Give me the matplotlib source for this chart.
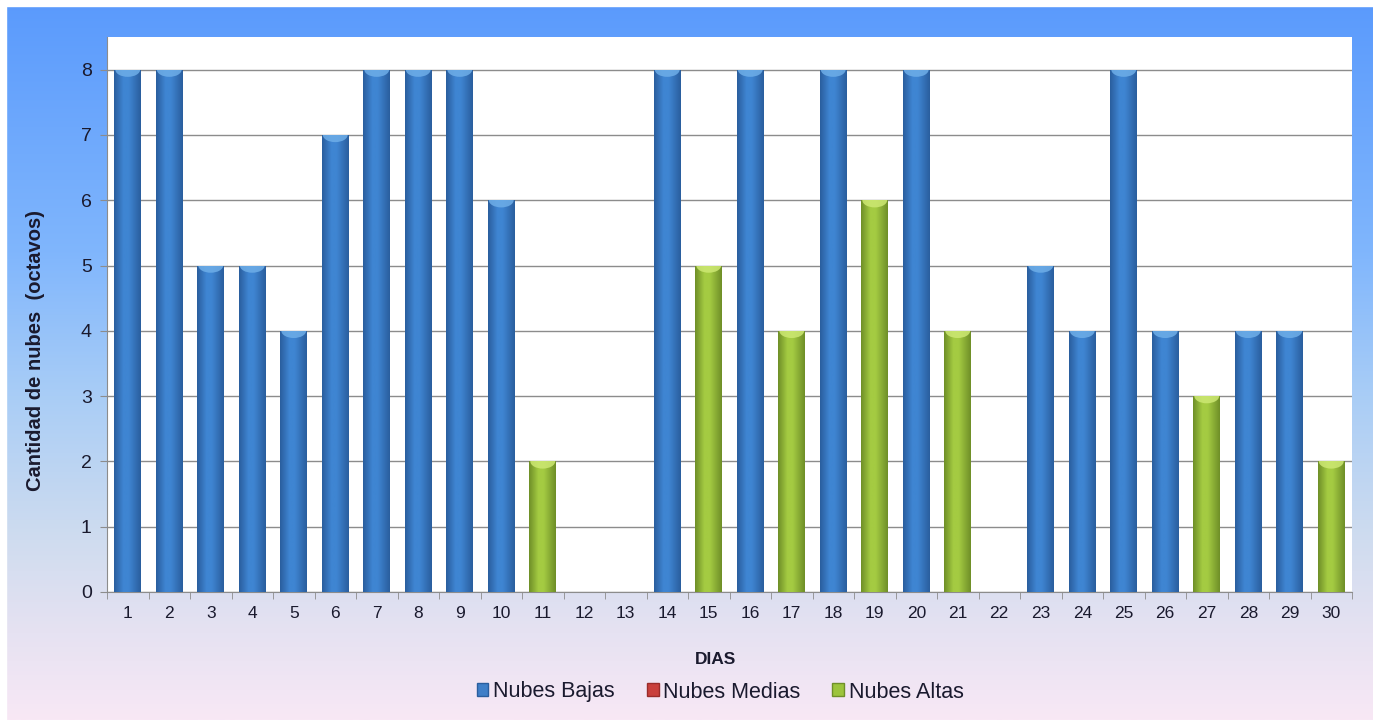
import matplotlib.pyplot as plt
import numpy as np
from matplotlib.colors import LinearSegmentedColormap
from matplotlib.patches import Patch, Ellipse

plt.rcParams['font.family'] = ['Liberation Sans', 'DejaVu Sans']

# datos: cantidad de nubes por día (octavos)
dias = [str(d) for d in range(1, 31)]
nubes_bajas = [8, 8, 5, 5, 4, 7, 8, 8, 8, 6, 0, 0, 0, 8, 0,
               8, 0, 8, 0, 8, 0, 0, 5, 4, 8, 4, 0, 4, 4, 0]
nubes_medias = [0] * 30
nubes_altas = [0, 0, 0, 0, 0, 0, 0, 0, 0, 0, 2, 0, 0, 0, 5,
               0, 4, 0, 6, 0, 4, 0, 0, 0, 0, 0, 3, 0, 0, 2]

W, H = 1373, 720
fig = plt.figure(figsize=(W / 100, H / 100), dpi=100)

# fondo degradado
bg = fig.add_axes([0, 0, 1, 1], zorder=-10)
bg_cmap = LinearSegmentedColormap.from_list('bg', [
    (0.0, '#5a9afc'), (0.35, '#80b6fd'), (0.55, '#a9cdf6'),
    (0.75, '#cfdcef'), (0.88, '#e6e2f2'), (1.0, '#f8e8f5')])
grad = np.linspace(0, 1, 256).reshape(-1, 1)
bg.imshow(grad, aspect='auto', cmap=bg_cmap, extent=[0, 1, 0, 1], origin='upper')
bg.axvspan(0, 6 / W, color='white')
bg.axhspan(1 - 6 / H, 1, color='white')
bg.set_xlim(0, 1)
bg.set_ylim(0, 1)
bg.axis('off')

ax = fig.add_axes([107 / W, 1 - 592 / H, (1352 - 107) / W, (592 - 37) / H])
ax.set_facecolor('white')

x = np.arange(len(dias))
ancho = 0.65


def barras_cilindro(valores, base, c_borde, c_centro, c_tapa):
    cmap = LinearSegmentedColormap.from_list('cil', [
        (0.0, c_borde), (0.35, c_centro), (0.55, c_centro), (1.0, c_borde)])
    rects = ax.bar(x, valores, ancho, bottom=base, color=c_centro, zorder=3,
                   linewidth=0)
    g = np.linspace(0, 1, 64).reshape(1, -1)
    for r, v in zip(rects, valores):
        if v <= 0:
            continue
        x0, y0 = r.get_x(), r.get_y()
        im = ax.imshow(g, cmap=cmap, aspect='auto', zorder=4,
                       extent=[x0, x0 + r.get_width(), y0, y0 + r.get_height()])
        im.set_clip_path(r)
        # tapa clara (elipse superior del cilindro)
        tapa = Ellipse((x0 + r.get_width() / 2, y0 + r.get_height()),
                       r.get_width() * 0.92, 0.22, facecolor=c_tapa,
                       edgecolor='none', alpha=0.85, zorder=5)
        ax.add_patch(tapa)
        tapa.set_clip_path(r)
    return rects


barras_cilindro(nubes_bajas, 0, '#2a5e9e', '#3f85d2', '#6eaee8')
barras_cilindro(nubes_altas, np.array(nubes_bajas) + np.array(nubes_medias),
                '#6f8f28', '#a4cb42', '#cde873')

ax.set_xlim(-0.5, len(dias) - 0.5)
ax.set_ylim(0, 8.5)
ax.set_yticks(range(0, 9))
ax.yaxis.grid(True, color='#8c8c8c', linewidth=1.0, zorder=0)
ax.set_axisbelow(True)
ax.set_xticks(x)
ax.set_xticklabels(dias, fontsize=12.5, color='#1a1a2e')
ax.set_xticks(np.arange(-0.5, len(dias)), minor=True)
ax.tick_params(axis='x', which='major', length=0, pad=10)
ax.tick_params(axis='x', which='minor', length=5, color='#8c8c8c', direction='out')
ax.tick_params(axis='y', labelsize=14, length=5, color='#8c8c8c',
               labelcolor='#1a1a2e', pad=6)
for s in ['top', 'right']:
    ax.spines[s].set_visible(False)
ax.spines['left'].set_color('#8c8c8c')
ax.spines['bottom'].set_color('#8c8c8c')

fig.text(36 / W, 1 - 350 / H, 'Cantidad de nubes  (octavos)', rotation=90,
         ha='center', va='center', fontsize=14.5, fontweight='bold', color='#1a1a2e')
fig.text(716 / W, 1 - 659 / H, 'DIAS', ha='center', va='center',
         fontsize=12.5, fontweight='bold', color='#1a1a2e')

handles = [Patch(facecolor='#3f7fc8', edgecolor='#2a5e9e', label='Nubes Bajas'),
           Patch(facecolor='#c9403c', edgecolor='#9a2c2a', label='Nubes Medias'),
           Patch(facecolor='#9cc43c', edgecolor='#6f8f28', label='Nubes Altas')]
fig.legend(handles=handles, loc='center', bbox_to_anchor=(720 / W, 1 - 692 / H),
           ncol=3, frameon=False, fontsize=15.5, handlelength=0.55,
           handleheight=0.55, handletextpad=0.2, columnspacing=1.5,
           labelcolor='#1a1a2e')

fig.savefig('out.png', dpi=100)
